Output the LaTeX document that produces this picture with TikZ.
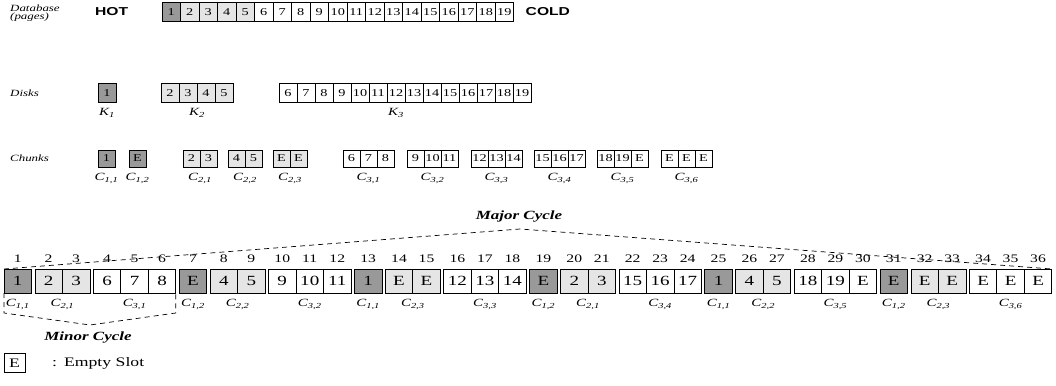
\documentclass[tikz,border=0pt]{standalone}
\usepackage{fontspec}
\setmainfont{Liberation Serif}[FakeStretch=1.36]
\newfontfamily\hcfont{Liberation Sans}[FakeStretch=1.36]

\begin{document}
\begin{tikzpicture}[x=1pt,y=-1pt,
  box/.style={draw=black,line width=.7pt,inner sep=0pt,outer sep=0pt,anchor=west},
  pg/.style={box,minimum width=18.5pt,minimum height=19pt,font=\fontsize{10.5}{10.5}\selectfont},
  dk/.style={box,minimum width=18pt,minimum height=19pt,font=\fontsize{10.5}{10.5}\selectfont},
  ch/.style={box,minimum width=17pt,minimum height=17pt,font=\fontsize{10.5}{10.5}\selectfont},
  sl/.style={box,minimum width=27.5pt,minimum height=24pt,font=\fontsize{14}{14}\selectfont},
  kone/.style={fill=black!40},
  ktwo/.style={fill=black!10},
  kthree/.style={fill=white},
  hc/.style={anchor=west,inner sep=0pt,font=\hcfont\fontsize{11.5}{11.5}\bfseries},
  rowname/.style={anchor=west,inner sep=0pt,font=\fontsize{9.5}{7.8}\itshape},
  subname/.style={anchor=north,inner sep=0pt,font=\fontsize{11}{11}\itshape},
  slotnum/.style={anchor=south,inner sep=0pt,font=\fontsize{11.5}{11.5}\selectfont},
  cyclename/.style={inner sep=0pt,font=\fontsize{12.5}{12.5}\bfseries\itshape},
  cycleline/.style={line width=.7pt,dash pattern=on 5pt off 4pt}]
\useasboundingbox (0,0) rectangle (1056,385);
% database
\node[rowname,align=left] (dbname) at (10,13) {Database\\(pages)};
\node[hc] (hot) at (95,12) {HOT};
\node[pg,kone] (p1) at (162,12) {1};
\node[pg,ktwo] (p2) at (p1.east) {2};
\node[pg,ktwo] (p3) at (p2.east) {3};
\node[pg,ktwo] (p4) at (p3.east) {4};
\node[pg,ktwo] (p5) at (p4.east) {5};
\node[pg,kthree] (p6) at (p5.east) {6};
\node[pg,kthree] (p7) at (p6.east) {7};
\node[pg,kthree] (p8) at (p7.east) {8};
\node[pg,kthree] (p9) at (p8.east) {9};
\node[pg,kthree] (p10) at (p9.east) {10};
\node[pg,kthree] (p11) at (p10.east) {11};
\node[pg,kthree] (p12) at (p11.east) {12};
\node[pg,kthree] (p13) at (p12.east) {13};
\node[pg,kthree] (p14) at (p13.east) {14};
\node[pg,kthree] (p15) at (p14.east) {15};
\node[pg,kthree] (p16) at (p15.east) {16};
\node[pg,kthree] (p17) at (p16.east) {17};
\node[pg,kthree] (p18) at (p17.east) {18};
\node[pg,kthree] (p19) at (p18.east) {19};
\node[hc] (cold) at ([xshift=12pt]p19.east) {COLD};
% disks
\node[rowname] (dkname) at (10,93) {Disks};
\node[dk,kone] (d1) at (98,93) {1};
\node[dk,ktwo] (d2) at (161,93) {2};
\node[dk,ktwo] (d3) at (d2.east) {3};
\node[dk,ktwo] (d4) at (d3.east) {4};
\node[dk,ktwo] (d5) at (d4.east) {5};
\node[dk,kthree] (d6) at (279,93) {6};
\node[dk,kthree] (d7) at (d6.east) {7};
\node[dk,kthree] (d8) at (d7.east) {8};
\node[dk,kthree] (d9) at (d8.east) {9};
\node[dk,kthree] (d10) at (d9.east) {10};
\node[dk,kthree] (d11) at (d10.east) {11};
\node[dk,kthree] (d12) at (d11.east) {12};
\node[dk,kthree] (d13) at (d12.east) {13};
\node[dk,kthree] (d14) at (d13.east) {14};
\node[dk,kthree] (d15) at (d14.east) {15};
\node[dk,kthree] (d16) at (d15.east) {16};
\node[dk,kthree] (d17) at (d16.east) {17};
\node[dk,kthree] (d18) at (d17.east) {18};
\node[dk,kthree] (d19) at (d18.east) {19};
\node[subname] (k1) at ([yshift=-6pt]d1.south) {K\textsubscript{1}};
\node[subname] (k2) at ([yshift=-6pt]d3.south east) {K\textsubscript{2}};
\node[subname] (k3) at ([yshift=-6pt]d12.south) {K\textsubscript{3}};
% chunks
\node[rowname] (chname) at (10,158.5) {Chunks};
\node[ch,kone] (ca1) at (98,158.5) {1};
\node[ch,kone] (ca2) at (129,158.5) {E};
\node[ch,ktwo] (cb1) at (183,158.5) {2};
\node[ch,ktwo] (cb2) at (cb1.east) {3};
\node[ch,ktwo] (cb3) at (228,158.5) {4};
\node[ch,ktwo] (cb4) at (cb3.east) {5};
\node[ch,ktwo] (cb5) at (273,158.5) {E};
\node[ch,ktwo] (cb6) at (cb5.east) {E};
\node[ch,kthree] (cc1) at (343,158.5) {6};
\node[ch,kthree] (cc2) at (cc1.east) {7};
\node[ch,kthree] (cc3) at (cc2.east) {8};
\node[ch,kthree] (cc4) at (407,158.5) {9};
\node[ch,kthree] (cc5) at (cc4.east) {10};
\node[ch,kthree] (cc6) at (cc5.east) {11};
\node[ch,kthree] (cc7) at (471,158.5) {12};
\node[ch,kthree] (cc8) at (cc7.east) {13};
\node[ch,kthree] (cc9) at (cc8.east) {14};
\node[ch,kthree] (cc10) at (534,158.5) {15};
\node[ch,kthree] (cc11) at (cc10.east) {16};
\node[ch,kthree] (cc12) at (cc11.east) {17};
\node[ch,kthree] (cc13) at (597,158.5) {18};
\node[ch,kthree] (cc14) at (cc13.east) {19};
\node[ch,kthree] (cc15) at (cc14.east) {E};
\node[ch,kthree] (cc16) at (661,158.5) {E};
\node[ch,kthree] (cc17) at (cc16.east) {E};
\node[ch,kthree] (cc18) at (cc17.east) {E};
\node[subname] (ta1) at ([yshift=-6pt]ca1.south) {C\textsubscript{1,1}};
\node[subname] (ta2) at ([yshift=-6pt]ca2.south) {C\textsubscript{1,2}};
\node[subname] (tb1) at ([yshift=-6pt]cb1.south east) {C\textsubscript{2,1}};
\node[subname] (tb2) at ([yshift=-6pt]cb3.south east) {C\textsubscript{2,2}};
\node[subname] (tb3) at ([yshift=-6pt]cb5.south east) {C\textsubscript{2,3}};
\node[subname] (tc1) at ([yshift=-6pt]cc2.south) {C\textsubscript{3,1}};
\node[subname] (tc2) at ([yshift=-6pt]cc5.south) {C\textsubscript{3,2}};
\node[subname] (tc3) at ([yshift=-6pt]cc8.south) {C\textsubscript{3,3}};
\node[subname] (tc4) at ([yshift=-6pt]cc11.south) {C\textsubscript{3,4}};
\node[subname] (tc5) at ([yshift=-6pt]cc14.south) {C\textsubscript{3,5}};
\node[subname] (tc6) at ([yshift=-6pt]cc17.south) {C\textsubscript{3,6}};
% broadcast slots
\node[sl,kone] (s1) at (4,281) {1}; \node[slotnum] (n1) at ([yshift=6pt]s1.north) {1};
\node[sl,ktwo] (s2) at (34.9,281) {2}; \node[slotnum] (n2) at ([yshift=6pt]s2.north) {2};
\node[sl,ktwo] (s3) at (s2.east) {3}; \node[slotnum] (n3) at ([yshift=6pt]s3.north) {3};
\node[sl,kthree] (s4) at (93.3,281) {6}; \node[slotnum] (n4) at ([yshift=6pt]s4.north) {4};
\node[sl,kthree] (s5) at (s4.east) {7}; \node[slotnum] (n5) at ([yshift=6pt]s5.north) {5};
\node[sl,kthree] (s6) at (s5.east) {8}; \node[slotnum] (n6) at ([yshift=6pt]s6.north) {6};
\node[sl,kone] (s7) at (179.2,281) {E}; \node[slotnum] (n7) at ([yshift=6pt]s7.north) {7};
\node[sl,ktwo] (s8) at (210.1,281) {4}; \node[slotnum] (n8) at ([yshift=6pt]s8.north) {8};
\node[sl,ktwo] (s9) at (s8.east) {5}; \node[slotnum] (n9) at ([yshift=6pt]s9.north) {9};
\node[sl,kthree] (s10) at (268.5,281) {9}; \node[slotnum] (n10) at ([yshift=6pt]s10.north) {10};
\node[sl,kthree] (s11) at (s10.east) {10}; \node[slotnum] (n11) at ([yshift=6pt]s11.north) {11};
\node[sl,kthree] (s12) at (s11.east) {11}; \node[slotnum] (n12) at ([yshift=6pt]s12.north) {12};
\node[sl,kone] (s13) at (354.4,281) {1}; \node[slotnum] (n13) at ([yshift=6pt]s13.north) {13};
\node[sl,ktwo] (s14) at (385.3,281) {E}; \node[slotnum] (n14) at ([yshift=6pt]s14.north) {14};
\node[sl,ktwo] (s15) at (s14.east) {E}; \node[slotnum] (n15) at ([yshift=6pt]s15.north) {15};
\node[sl,kthree] (s16) at (443.7,281) {12}; \node[slotnum] (n16) at ([yshift=6pt]s16.north) {16};
\node[sl,kthree] (s17) at (s16.east) {13}; \node[slotnum] (n17) at ([yshift=6pt]s17.north) {17};
\node[sl,kthree] (s18) at (s17.east) {14}; \node[slotnum] (n18) at ([yshift=6pt]s18.north) {18};
\node[sl,kone] (s19) at (529.6,281) {E}; \node[slotnum] (n19) at ([yshift=6pt]s19.north) {19};
\node[sl,ktwo] (s20) at (560.5,281) {2}; \node[slotnum] (n20) at ([yshift=6pt]s20.north) {20};
\node[sl,ktwo] (s21) at (s20.east) {3}; \node[slotnum] (n21) at ([yshift=6pt]s21.north) {21};
\node[sl,kthree] (s22) at (618.9,281) {15}; \node[slotnum] (n22) at ([yshift=6pt]s22.north) {22};
\node[sl,kthree] (s23) at (s22.east) {16}; \node[slotnum] (n23) at ([yshift=6pt]s23.north) {23};
\node[sl,kthree] (s24) at (s23.east) {17}; \node[slotnum] (n24) at ([yshift=6pt]s24.north) {24};
\node[sl,kone] (s25) at (704.8,281) {1}; \node[slotnum] (n25) at ([yshift=6pt]s25.north) {25};
\node[sl,ktwo] (s26) at (735.7,281) {4}; \node[slotnum] (n26) at ([yshift=6pt]s26.north) {26};
\node[sl,ktwo] (s27) at (s26.east) {5}; \node[slotnum] (n27) at ([yshift=6pt]s27.north) {27};
\node[sl,kthree] (s28) at (794.1,281) {18}; \node[slotnum] (n28) at ([yshift=6pt]s28.north) {28};
\node[sl,kthree] (s29) at (s28.east) {19}; \node[slotnum] (n29) at ([yshift=6pt]s29.north) {29};
\node[sl,kthree] (s30) at (s29.east) {E}; \node[slotnum] (n30) at ([yshift=6pt]s30.north) {30};
\node[sl,kone] (s31) at (880,281) {E}; \node[slotnum] (n31) at ([yshift=6pt]s31.north) {31};
\node[sl,ktwo] (s32) at (910.9,281) {E}; \node[slotnum] (n32) at ([yshift=6pt]s32.north) {32};
\node[sl,ktwo] (s33) at (s32.east) {E}; \node[slotnum] (n33) at ([yshift=6pt]s33.north) {33};
\node[sl,kthree] (s34) at (969.3,281) {E}; \node[slotnum] (n34) at ([yshift=6pt]s34.north) {34};
\node[sl,kthree] (s35) at (s34.east) {E}; \node[slotnum] (n35) at ([yshift=6pt]s35.north) {35};
\node[sl,kthree] (s36) at (s35.east) {E}; \node[slotnum] (n36) at ([yshift=6pt]s36.north) {36};
\node[subname] (u1) at ([yshift=-6pt]s1.south) {C\textsubscript{1,1}};
\node[subname] (u2) at ([yshift=-6pt]s2.south east) {C\textsubscript{2,1}};
\node[subname] (u3) at ([yshift=-6pt]s5.south) {C\textsubscript{3,1}};
\node[subname] (u4) at ([yshift=-6pt]s7.south) {C\textsubscript{1,2}};
\node[subname] (u5) at ([yshift=-6pt]s8.south east) {C\textsubscript{2,2}};
\node[subname] (u6) at ([yshift=-6pt]s11.south) {C\textsubscript{3,2}};
\node[subname] (u7) at ([yshift=-6pt]s13.south) {C\textsubscript{1,1}};
\node[subname] (u8) at ([yshift=-6pt]s14.south east) {C\textsubscript{2,3}};
\node[subname] (u9) at ([yshift=-6pt]s17.south) {C\textsubscript{3,3}};
\node[subname] (u10) at ([yshift=-6pt]s19.south) {C\textsubscript{1,2}};
\node[subname] (u11) at ([yshift=-6pt]s20.south east) {C\textsubscript{2,1}};
\node[subname] (u12) at ([yshift=-6pt]s23.south) {C\textsubscript{3,4}};
\node[subname] (u13) at ([yshift=-6pt]s25.south) {C\textsubscript{1,1}};
\node[subname] (u14) at ([yshift=-6pt]s26.south east) {C\textsubscript{2,2}};
\node[subname] (u15) at ([yshift=-6pt]s29.south) {C\textsubscript{3,5}};
\node[subname] (u16) at ([yshift=-6pt]s31.south) {C\textsubscript{1,2}};
\node[subname] (u17) at ([yshift=-6pt]s32.south east) {C\textsubscript{2,3}};
\node[subname] (u18) at ([yshift=-6pt]s35.south) {C\textsubscript{3,6}};
% cycles
\node[cyclename] (major) at (519,217) {Major Cycle};
\coordinate (mjtop) at (520,229);
\draw[cycleline] (s1.north west) -- (mjtop) -- (s36.north east);
\coordinate (mntop) at (90,325);
\draw[cycleline] (s1.south west) -- ([yshift=-20pt]s1.south west) -- (mntop) -- ([yshift=-20pt]s6.south east) -- (s6.south east);
\node[cyclename] (minor) at (88,338) {Minor Cycle};
% legend
\node[box,minimum width=21pt,minimum height=19pt,font=\fontsize{13}{13}\selectfont] (legbox) at (4,363) {E};
\node[anchor=west,inner sep=0pt,font=\fontsize{13}{13}\selectfont] (legtext) at (52,363) {:\hspace{7pt}Empty Slot};
\end{tikzpicture}
\end{document}
